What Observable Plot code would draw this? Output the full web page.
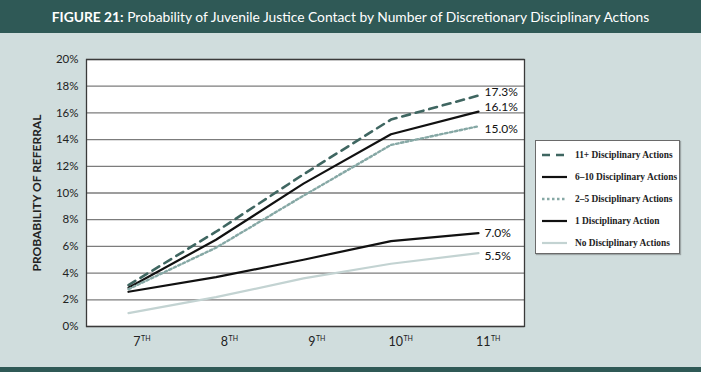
<!DOCTYPE html>
<html>
<head>
<meta charset="utf-8">
<script src="https://cdn.jsdelivr.net/npm/d3@7"></script>
<script src="https://cdn.jsdelivr.net/npm/@observablehq/plot@0.6"></script>
<style>
  html, body { margin: 0; padding: 0; }
  body { width: 701px; height: 372px; background: #d0dddd; position: relative; overflow: hidden; font-family: Lato, "Open Sans", sans-serif; }
  #title { height: 33px; background: #2f5956; color: #fff; font-size: 13.8px; line-height: 33px; text-align: center; white-space: nowrap; }
  #title b { font-weight: 700; }
  #chart { position: absolute; left: 0; top: 33px; }
  #bottom { position: absolute; left: 0; top: 367px; width: 701px; height: 5px; background: #2f5956; }
  #legend { position: absolute; left: 535px; top: 140px; width: 145px; height: 114px; background: #fff; border: 1px solid #6a6a6a; box-sizing: border-box; box-shadow: 1px 1px 1px rgba(0,0,0,0.25); }
  .lg { position: absolute; left: 6px; height: 12px; display: flex; align-items: center; font-family: "Liberation Serif", serif; font-weight: 700; font-size: 9.4px; color: #222; white-space: nowrap; }
  .lg svg { margin-right: 8px; }
</style>
</head>
<body>
<div id="title"><b>FIGURE 21:</b> Probability of Juvenile Justice Contact by Number of Discretionary Disciplinary Actions</div>
<div id="chart"></div>
<div id="legend"></div>
<div id="bottom"></div>
<script>
// ---- data ----
const grades = [7, 8, 9, 10, 11];
const gradeSuffix = "TH";
const yTicks = [0, 0.02, 0.04, 0.06, 0.08, 0.10, 0.12, 0.14, 0.16, 0.18, 0.20];
const seriesNames = ["11+ Disciplinary Actions", "6–10 Disciplinary Actions", "2–5 Disciplinary Actions", "1 Disciplinary Action", "No Disciplinary Actions"];
const v11plus = [0.031, 0.071, 0.114, 0.155, 0.173];
const v6to10 = [0.029, 0.065, 0.107, 0.144, 0.161];
const v2to5 = [0.028, 0.059, 0.098, 0.136, 0.150];
const v1 = [0.026, 0.037, 0.050, 0.064, 0.070];
const vNone = [0.010, 0.022, 0.036, 0.047, 0.055];
const seriesValues = [v11plus, v6to10, v2to5, v1, vNone];

// ---- styles ----
const styles = [
  {stroke: "#3f6661", strokeWidth: 2.6, strokeDasharray: "8,6"},
  {stroke: "#111", strokeWidth: 2.2},
  {stroke: "#86a8a5", strokeWidth: 2.4, strokeDasharray: "2.5,2.5"},
  {stroke: "#111", strokeWidth: 2.2},
  {stroke: "#c3d3d2", strokeWidth: 2.2}
];
const labelDy = [-3, -4, 3, 0, 3];

const rows = seriesNames.flatMap((s, i) => grades.map((g, j) => ({series: s, idx: i, grade: g, value: seriesValues[i][j]})));
const lastRows = rows.filter(d => d.grade === grades[grades.length - 1]);

const font = "Lato, 'Open Sans', sans-serif";
const marks = [
  Plot.frame({fill: "white", stroke: null}),
  Plot.ruleY(yTicks, {stroke: "#7c7c7c", strokeWidth: 1.3}),
  Plot.frame({stroke: "#3a3a3a", strokeWidth: 1.3}),
  Plot.axisY({ticks: yTicks, tickFormat: d3.format(".0%"), tickSize: 0, tickPadding: 8, label: null, fontSize: 11.5}),
  Plot.text([0], {frameAnchor: "left", text: () => "PROBABILITY OF REFERRAL", rotate: -90, textAnchor: "middle", dx: -49, fontWeight: "bold", fontSize: 12, fill: "#222"}),
  ...seriesNames.map((s, i) => Plot.line(rows.filter(d => d.idx === i), {x: "grade", y: "value", ...styles[i], strokeLinejoin: "round"})),
  ...lastRows.map(d => Plot.text([d], {x: "grade", y: "value", text: r => d3.format(".1%")(r.value), textAnchor: "start", dx: 6, dy: labelDy[d.idx], fontSize: 12, fill: "#111"})),
  Plot.text(grades, {x: d => d, y: () => 0, text: d => String(d), textAnchor: "end", dx: 12, dy: 15, fontSize: 12.5, fill: "#222"}),
  Plot.text(grades, {x: d => d, y: () => 0, text: () => gradeSuffix, textAnchor: "start", dx: 12.5, dy: 12, fontSize: 7, fill: "#222"})
];

const chart = Plot.plot({
  width: 701, height: 334,
  marginLeft: 86, marginRight: 177, marginTop: 26, marginBottom: 41,
  style: {background: "transparent", fontFamily: font, color: "#222", fontSize: "12px"},
  x: {domain: [6.52, 11.526], axis: null},
  y: {domain: [0, 0.2], axis: null},
  marks
});
document.getElementById("chart").appendChild(chart);

// ---- legend ----
const legend = document.getElementById("legend");
seriesNames.forEach((s, i) => {
  const row = document.createElement("div");
  row.className = "lg";
  row.style.top = (8 + i * 22) + "px";
  const st = styles[i];
  row.innerHTML = `<svg width="25" height="6"><line x1="0" x2="25" y1="3" y2="3" stroke="${st.stroke}" stroke-width="${st.strokeWidth}" ${st.strokeDasharray ? `stroke-dasharray="${st.strokeDasharray}"` : ""}/></svg><span></span>`;
  row.querySelector("span").textContent = s;
  legend.appendChild(row);
});
</script>
</body>
</html>
